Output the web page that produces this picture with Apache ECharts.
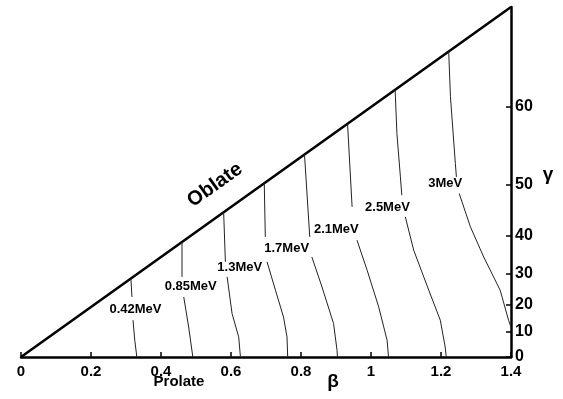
<!DOCTYPE html>
<html>
<head>
<meta charset="utf-8">
<script src="https://cdn.jsdelivr.net/npm/echarts@6/dist/echarts.min.js"></script>
<style>
  html, body { margin: 0; padding: 0; background: #fff; }
  #chart { width: 563px; height: 399px; }
</style>
</head>
<body>
<div id="chart"></div>
<script>
// beta axis (x) and gamma ticks (right axis, placed at tan(gamma))
const betaMin = 0
const betaMax = 1.4
const gammaTicks = [0, 10, 20, 30, 40, 50, 60]

// oblate edge of the triangle (gamma = 60 deg)
const oblateLine = [[0, 0], [1.4, 2.425]]

// contour lines, [beta, y]; null = break where the label sits
const curve042 = [[0.314, 0.544], [0.317, 0.416], null, [0.320, 0.255], [0.325, 0.116], [0.331, 0]]
const curve085 = [[0.460, 0.797], [0.460, 0.555], null, [0.465, 0.416], [0.479, 0.208], [0.491, 0]]
const curve13 = [[0.579, 1.003], [0.584, 0.659], null, [0.589, 0.555], [0.603, 0.301], [0.622, 0.139], [0.627, 0]]
const curve17 = [[0.695, 1.204], [0.698, 0.832], null, [0.703, 0.659], [0.727, 0.463], [0.750, 0.277], [0.760, 0.139], [0.762, 0]]
const curve21 = [[0.810, 1.403], [0.825, 0.832], null, [0.831, 0.693], [0.860, 0.485], [0.893, 0.232], [0.903, 0.046], [0.904, 0]]
const curve23 = [[0.933, 1.616], [0.946, 1.040], null, [0.960, 0.809], [0.989, 0.601], [1.022, 0.347], [1.046, 0.116], [1.050, 0]]
const curve25 = [[1.069, 1.852], [1.074, 1.549], [1.084, 1.248], [1.088, 1.121], null, [1.098, 0.971], [1.122, 0.740], [1.165, 0.463], [1.198, 0.255], [1.212, 0.069], [1.215, 0]]
const curve30 = [[1.222, 2.117], [1.227, 1.803], [1.241, 1.341], [1.244, 1.248], null, [1.252, 1.133], [1.284, 0.902], [1.322, 0.693], [1.369, 0.463], [1.393, 0.255], [1.400, 0.206]]
const curves = [curve042, curve085, curve13, curve17, curve21, curve23, curve25, curve30]

// contour labels
const labelNames = ['0.42MeV', '0.85MeV', '1.3MeV', '1.7MeV', '2.1MeV', '2.5MeV', '3MeV']
const labelPos = [[0.327, 0.330], [0.485, 0.490], [0.625, 0.619], [0.759, 0.750], [0.901, 0.886], [1.047, 1.035], [1.212, 1.205]]

const FONT = 'Liberation Sans, Arial, sans-serif'
const chart = echarts.init(document.getElementById('chart'))

// split each curve at its nulls into separate line pieces
const curveSeries = []
curves.forEach(c => {
  let seg = []
  c.concat([null]).forEach(p => {
    if (p === null) {
      if (seg.length) curveSeries.push({
        type: 'line', data: seg, symbol: 'none', silent: true,
        lineStyle: { color: '#222', width: 1 }
      })
      seg = []
    } else {
      seg.push(p)
    }
  })
})

const tanVals = gammaTicks.map(g => Math.tan(g * Math.PI / 180))

const option = {
  animation: false,
  grid: { left: 21, right: 52, top: 7, bottom: 42 },
  xAxis: {
    type: 'value',
    min: betaMin,
    max: betaMax,
    interval: 0.2,
    splitLine: { show: false },
    axisLine: { onZero: false, lineStyle: { color: '#000', width: 2.5 } },
    axisTick: { inside: true, length: 5, lineStyle: { color: '#000', width: 1.5 } },
    axisLabel: { color: '#000', fontSize: 15, fontWeight: 'bold', fontFamily: FONT, margin: 7 }
  },
  yAxis: {
    type: 'value',
    position: 'right',
    min: 0,
    max: 1.4 * Math.sqrt(3),
    splitLine: { show: false },
    axisLine: { show: true, onZero: false, lineStyle: { color: '#000', width: 2.5 } },
    axisTick: { show: true, inside: true, length: 5, customValues: tanVals, lineStyle: { color: '#000', width: 1.5 } },
    axisLabel: {
      color: '#000', fontSize: 16, fontWeight: 'bold', fontFamily: FONT, margin: 4,
      customValues: tanVals,
      formatter: v => String(Math.round(Math.atan(v) * 180 / Math.PI))
    }
  },
  series: [
    {
      type: 'line', data: oblateLine, symbol: 'none', silent: true,
      lineStyle: { color: '#000', width: 2.5 }
    },
    ...curveSeries,
    {
      type: 'scatter', symbolSize: 0, silent: true,
      itemStyle: { opacity: 1 },
      data: labelPos.map((p, i) => ({ value: p, name: labelNames[i] })),
      label: {
        show: true, position: 'inside', formatter: '{b}',
        color: '#000', textBorderWidth: 0, fontSize: 13, fontWeight: 'bold', fontFamily: FONT
      }
    }
  ],
  graphic: [
    { type: 'text', x: 215, y: 185, rotation: 35.5 * Math.PI / 180,
      style: { text: 'Oblate', fill: '#000', font: 'bold 20px ' + FONT, textAlign: 'center', textVerticalAlign: 'middle' } },
    { type: 'text', x: 179, y: 382,
      style: { text: 'Prolate', fill: '#000', font: 'bold 15px ' + FONT, textAlign: 'center', textVerticalAlign: 'middle' } },
    { type: 'text', x: 333, y: 382,
      style: { text: 'β', fill: '#000', font: 'bold 19px ' + FONT, textAlign: 'center', textVerticalAlign: 'middle' } },
    { type: 'text', x: 548, y: 175,
      style: { text: 'γ', fill: '#000', font: 'bold 19px ' + FONT, textAlign: 'center', textVerticalAlign: 'middle' } }
  ]
}

chart.setOption(option)
</script>
</body>
</html>
